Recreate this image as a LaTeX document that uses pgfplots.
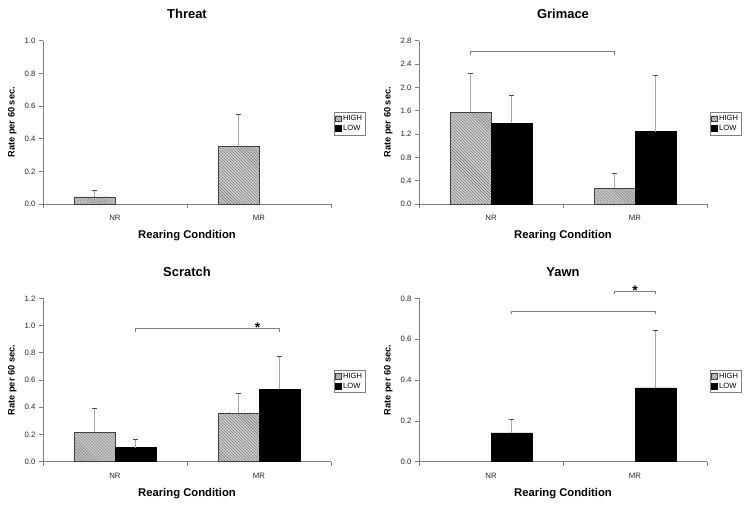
\documentclass[border=0pt]{standalone}
\usepackage{fontspec}
\setmainfont{Liberation Sans}
\usepackage{pgfplots}
\pgfplotsset{compat=1.18}
\usetikzlibrary{patterns}

\definecolor{axgray}{RGB}{128,128,128}
\definecolor{errgray}{RGB}{165,165,165}
\definecolor{hatchfill}{RGB}{205,205,205}
\definecolor{hatchline}{RGB}{110,110,110}

\tikzset{
  highfill/.style={fill=hatchfill, draw=black!75, line width=0.5bp,
    postaction={pattern=north west lines, pattern color=hatchline}},
  lowfill/.style={fill=black, draw=black, line width=0.5bp},
  brk/.style={draw=axgray, line width=0.8bp},
  star/.style={anchor=base, yshift=-4bp, font=\bfseries\fontsize{14}{14}\selectfont},
}

\pgfplotsset{
  panel/.style={
    scale only axis, width=288bp, height=163.3bp, anchor=south west,
    axis lines*=left, axis line style={-, draw=axgray, line width=0.7bp},
    clip=false,
    xmin=-0.5, xmax=1.5, ymin=0,
    xtick={-0.5,0.5,1.5}, xticklabels={},
    extra x ticks={0,1}, extra x tick labels={NR,MR},
    extra x tick style={major tick length=0pt,
      tick label style={yshift=-8bp}},
    tick align=outside, major tick length=4bp,
    tick style={draw=axgray, line width=0.7bp},
    tick label style={font=\fontsize{7.8}{9}\selectfont, text=black!85},
    /pgf/number format/fixed, /pgf/number format/fixed zerofill,
    /pgf/number format/precision=1,
    /pgf/number format/assume math mode=true,
    title style={font=\bfseries\fontsize{13}{15}\selectfont,
      at={(axis description cs:0.5,1)}, anchor=base, yshift=16bp},
    xlabel={Rearing Condition},
    xlabel style={font=\bfseries\fontsize{11.3}{13}\selectfont,
      at={(axis description cs:0.5,0)}, anchor=base, yshift=-35bp},
    ylabel={Rate per 60 sec.},
    ylabel style={font=\bfseries\fontsize{9.3}{11}\selectfont,
      at={(axis description cs:-0.106,0.5)}, anchor=center},
    legend style={at={(axis description cs:1.01,0.563)}, anchor=north west,
      draw=axgray, font=\fontsize{7.6}{9}\selectfont,
      inner sep=1bp, row sep=-1bp, cells={anchor=west}},
    legend image code/.code={\draw[#1] (0bp,-2.8bp) rectangle (5.6bp,2.8bp);},
  },
  bars/.style={ybar, bar width=0.283, bar shift=0pt,
    error bars/y dir=plus, error bars/y explicit,
    error bars/error mark=-,
    error bars/error bar style={errgray, line width=1.2bp},
    error bars/error mark options={rotate=90, black!70, line width=0.6bp, mark size=2.5bp}},
}

\begin{document}
\begin{tikzpicture}
\useasboundingbox (0,0) rectangle (751bp,505bp);

% Threat
\begin{axis}[panel, at={(43bp,301bp)}, ymax=1.0,
  ytick={0,0.2,0.4,0.6,0.8,1.0}, title={Threat}]
\addplot[bars, highfill] coordinates {(-0.141,0.044) +- (0,0.042) (0.859,0.353) +- (0,0.197)};
\addlegendentry{HIGH}
\addlegendimage{lowfill}
\addlegendentry{LOW}
\end{axis}

% Grimace
\begin{axis}[panel, at={(419bp,301bp)}, ymax=2.8,
  ytick={0,0.4,0.8,1.2,1.6,2.0,2.4,2.8}, title={Grimace}]
\addplot[bars, highfill] coordinates {(-0.141,1.572) +- (0,0.668) (0.859,0.269) +- (0,0.261)};
\addlegendentry{HIGH}
\addplot[bars, lowfill] coordinates {(0.142,1.383) +- (0,0.481) (1.142,1.240) +- (0,0.970)};
\addlegendentry{LOW}
\draw[brk] ([yshift=-3bp]axis cs:-0.141,2.61) -- (axis cs:-0.141,2.61)
  -- (axis cs:0.859,2.61) -- ([yshift=-3bp]axis cs:0.859,2.61);
\end{axis}

% Scratch
\begin{axis}[panel, at={(43bp,43.3bp)}, ymax=1.2,
  ytick={0,0.2,0.4,0.6,0.8,1.0,1.2}, title={Scratch}]
\addplot[bars, highfill] coordinates {(-0.141,0.216) +- (0,0.176) (0.859,0.355) +- (0,0.147)};
\addlegendentry{HIGH}
\addplot[bars, lowfill] coordinates {(0.142,0.103) +- (0,0.059) (1.142,0.532) +- (0,0.242)};
\addlegendentry{LOW}
\draw[brk] ([yshift=-3bp]axis cs:0.142,0.977) -- (axis cs:0.142,0.977)
  -- (axis cs:1.142,0.977) -- ([yshift=-3bp]axis cs:1.142,0.977);
\node[star] at (axis cs:0.99,0.977) {*};
\end{axis}

% Yawn
\begin{axis}[panel, at={(419bp,43.3bp)}, ymax=0.8,
  ytick={0,0.2,0.4,0.6,0.8}, title={Yawn}]
\addlegendimage{highfill}
\addlegendentry{HIGH}
\addplot[bars, lowfill] coordinates {(0.142,0.141) +- (0,0.067) (1.142,0.362) +- (0,0.281)};
\addlegendentry{LOW}
\draw[brk] ([yshift=-3bp]axis cs:0.142,0.736) -- (axis cs:0.142,0.736)
  -- (axis cs:1.142,0.736) -- ([yshift=-3bp]axis cs:1.142,0.736);
\draw[brk] ([yshift=-3bp]axis cs:0.859,0.836) -- (axis cs:0.859,0.836)
  -- (axis cs:1.142,0.836) -- ([yshift=-3bp]axis cs:1.142,0.836);
\node[star] at (axis cs:1.0,0.836) {*};
\end{axis}
\end{tikzpicture}
\end{document}
